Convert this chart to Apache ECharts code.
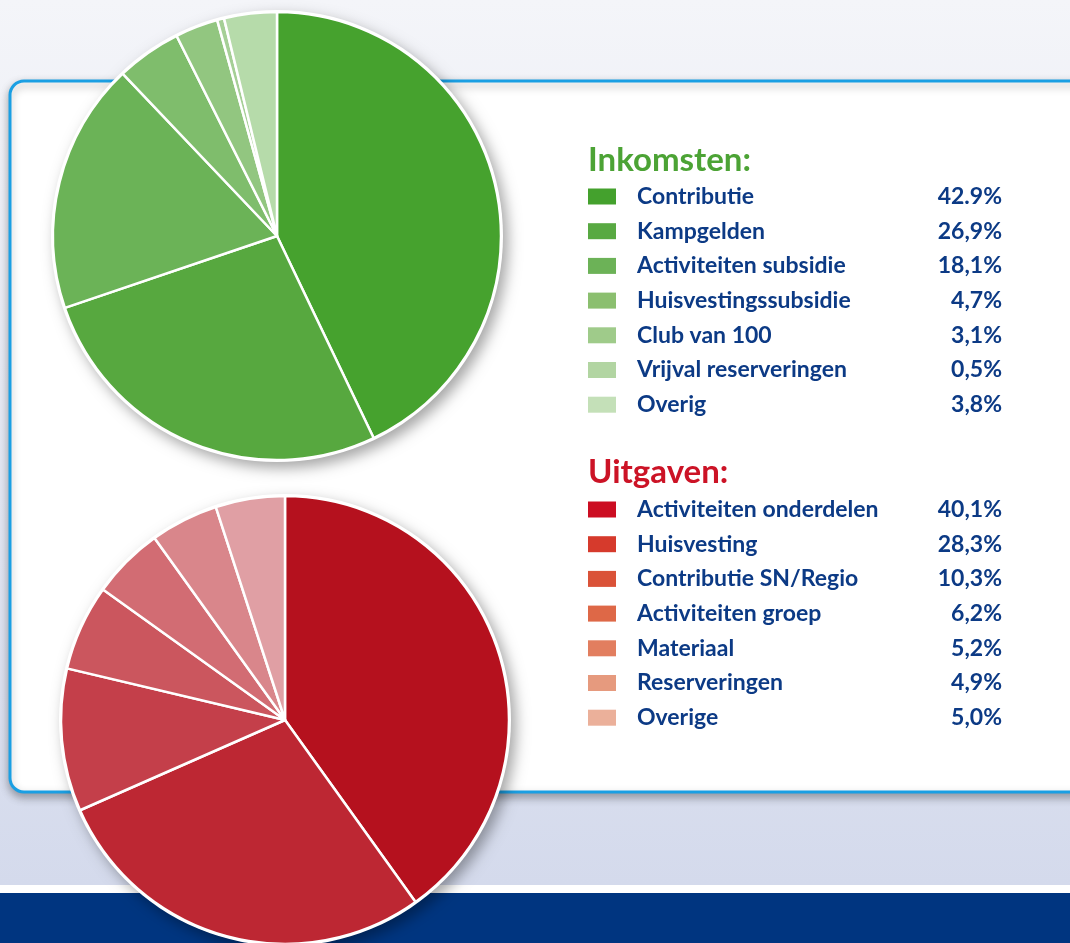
<!DOCTYPE html>
<html>
<head>
<meta charset="utf-8">
<title>Inkomsten en uitgaven</title>
<script src="https://cdn.jsdelivr.net/npm/echarts@6/dist/echarts.min.js"></script>
<style>
  html, body { margin: 0; padding: 0; }
  #chart { width: 1070px; height: 943px; }
</style>
</head>
<body>
<div id="chart"></div>
<script>
// inkomsten
const incomeNames = ['Contributie', 'Kampgelden', 'Activiteiten subsidie', 'Huisvestingssubsidie', 'Club van 100', 'Vrijval reserveringen', 'Overig']
const incomeValues = [42.9, 26.9, 18.1, 4.7, 3.1, 0.5, 3.8]
const incomeLabels = ['42.9%', '26,9%', '18,1%', '4,7%', '3,1%', '0,5%', '3,8%']
const incomeSliceColors = ['#46a22e', '#57a83f', '#6bb357', '#7fbd6c', '#92c680', '#a5cf96', '#b6dbaa']
const incomeKeyColors = ['#44a12d', '#58a942', '#6cb257', '#8bbf6f', '#9fcb8a', '#b2d5a2', '#c4e0b8']

// uitgaven
const costNames = ['Activiteiten onderdelen', 'Huisvesting', 'Contributie SN/Regio', 'Activiteiten groep', 'Materiaal', 'Reserveringen', 'Overige']
const costValues = [40.1, 28.3, 10.3, 6.2, 5.2, 4.9, 5.0]
const costLabels = ['40,1%', '28,3%', '10,3%', '6,2%', '5,2%', '4,9%', '5,0%']
const costSliceColors = ['#b5111e', '#bd2733', '#c43f4a', '#cb565e', '#d26c73', '#d9868b', '#e09fa4']
const costKeyColors = ['#cc0d22', '#d63a2c', '#da5238', '#de6847', '#e27e5f', '#e69a7e', '#ebb09a']

const textBlue = '#0c3a85'

const chart = echarts.init(document.getElementById('chart'))

const sum = arr => arr.reduce((a, b) => a + b, 0)

const makeLegend = (names, labels, colors, top) => ({
  orient: 'vertical',
  left: 588,
  top: top,
  padding: 0,
  icon: 'rect',
  itemWidth: 28,
  itemHeight: 16,
  itemGap: 11.7,
  selectedMode: false,
  itemStyle: { borderWidth: 0 },
  data: names.map((n, i) => ({ name: n, itemStyle: { color: colors[i], borderWidth: 0 } })),
  formatter: name => {
    const i = names.indexOf(name)
    return `{n|${name}}{v|${labels[i]}}`
  },
  textStyle: {
    rich: {
      n: { width: 290, padding: [0, 0, 0, 16], fontSize: 23, fontWeight: 'bold', fontFamily: 'Lato', color: textBlue, lineHeight: 24 },
      v: { width: 75, align: 'right', fontSize: 23, fontWeight: 'bold', fontFamily: 'Lato', color: textBlue, lineHeight: 24 }
    }
  }
})

const makePie = (names, values, colors, center) => ({
  type: 'pie',
  center: center,
  radius: 224,
  startAngle: 90,
  clockwise: true,
  z: 3,
  label: { show: false },
  labelLine: { show: false },
  emphasis: { disabled: true },
  itemStyle: { borderColor: '#ffffff', borderWidth: 2.5 },
  data: names.map((n, i) => ({ name: n, value: values[i], itemStyle: { color: colors[i] } }))
})

// witte schijf met schaduw achter elke taart
const makeBackdrop = (values, center) => ({
  type: 'pie',
  center: center,
  radius: 226,
  silent: true,
  z: 2,
  label: { show: false },
  emphasis: { disabled: true },
  itemStyle: {
    color: '#ffffff',
    shadowBlur: 14,
    shadowColor: 'rgba(0,0,0,0.35)',
    shadowOffsetX: 5,
    shadowOffsetY: 6
  },
  data: [{ name: '', value: sum(values) }]
})

const option = {
  animation: false,
  backgroundColor: '#ffffff',
  graphic: [
    {
      type: 'rect', z: -10,
      shape: { x: 0, y: 0, width: 1070, height: 885 },
      style: {
        fill: new echarts.graphic.LinearGradient(0, 0, 0, 1, [
          { offset: 0, color: '#f4f5f9' },
          { offset: 1, color: '#d4daec' }
        ])
      }
    },
    {
      type: 'rect', z: -10,
      shape: { x: 0, y: 893, width: 1070, height: 50 },
      style: { fill: '#003580' }
    },
    {
      type: 'rect', z: -5,
      shape: { x: 10, y: 81, width: 1100, height: 711, r: 14 },
      style: {
        fill: '#ffffff',
        stroke: '#1a9fe3',
        lineWidth: 3,
        shadowBlur: 8,
        shadowColor: 'rgba(0,0,0,0.3)',
        shadowOffsetY: 4
      }
    }
  ],
  title: [
    {
      text: 'Inkomsten:', left: 583, top: 139,
      textStyle: { fontSize: 33, fontWeight: 'bold', fontFamily: 'Lato', color: '#4ca335' }
    },
    {
      text: 'Uitgaven:', left: 583, top: 451,
      textStyle: { fontSize: 33, fontWeight: 'bold', fontFamily: 'Lato', color: '#cc1326' }
    }
  ],
  legend: [
    makeLegend(incomeNames, incomeLabels, incomeKeyColors, 185),
    makeLegend(costNames, costLabels, costKeyColors, 498)
  ],
  series: [
    makeBackdrop(incomeValues, [277, 236]),
    makePie(incomeNames, incomeValues, incomeSliceColors, [277, 236]),
    makeBackdrop(costValues, [285, 720]),
    makePie(costNames, costValues, costSliceColors, [285, 720])
  ]
}

chart.setOption(option)
window.addEventListener('resize', () => chart.resize())
</script>
</body>
</html>
